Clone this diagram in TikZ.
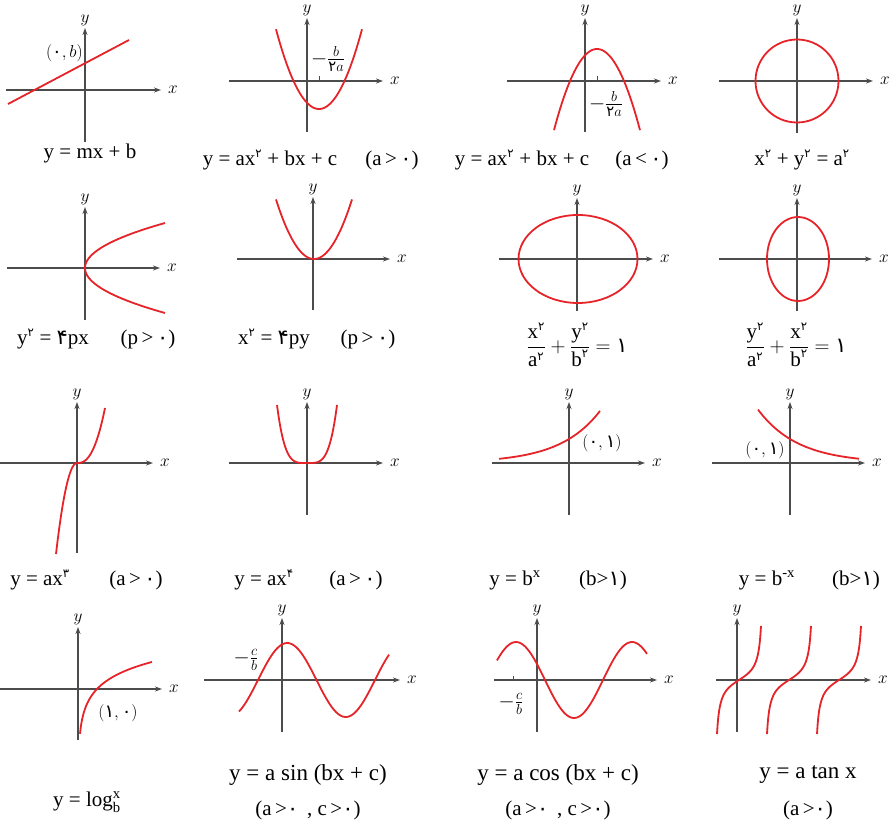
\documentclass[tikz,border=0pt]{standalone}
\usepackage{amsmath}
\usepackage{fontspec}
\setmainfont{Liberation Serif}
\newfontfamily\pfont[Script=Arabic]{DejaVu Sans}
\newcommand\fa[1]{{\pfont #1}}
\newcommand\sfa[1]{\textsuperscript{\pfont\scalebox{0.8}{#1}}}
\newcommand\mfa[1]{\text{\pfont\scalebox{0.8}{#1}}}
\usetikzlibrary{arrows.meta}
\definecolor{cred}{RGB}{230,35,40}
\begin{document}
\begin{tikzpicture}[x=1pt,y=-1pt,
  axis/.style={draw=black!70, line width=1.1pt, -{Stealth[length=7pt,width=5pt]}},
  curve/.style={draw=cred, line width=1.8pt},
  lab/.style={inner sep=0pt, font=\fontsize{17}{20}\selectfont},
  fml/.style={inner sep=0pt, font=\fontsize{21}{25}\selectfont},
  fmlb/.style={inner sep=0pt, font=\fontsize{23}{27}\selectfont},
  small/.style={inner sep=0pt, font=\fontsize{21}{24}\selectfont},
  pt/.style={inner sep=0pt, font=\fontsize{18}{21}\selectfont},
  tick/.style={draw=black!70, line width=0.8pt}]
\useasboundingbox (0,0) rectangle (895,821);
\newcommand\myaxes[7]{%
  \draw[axis] (#3,#2) -- (#4,#2);
  \node[lab,anchor=west] (#7x) at ({#4+7},#2) {$x$};
  \draw[axis] (#1,#6) -- (#1,#5);
  \node[lab,anchor=south] (#7y) at (#1,{#5-2}) {$y$};}
% Row 1
\myaxes{85}{90}{6}{161}{28}{142}{p1}
\draw[curve] (8,104) -- (129,40);
\node[pt,anchor=east] (l1) at (83,53) {$(\mbox{\pfont ۰},b)$};
\node[fml] (f1) at (90,153) {y = mx + b};

\myaxes{307}{81}{229}{383}{18}{132}{p2}
\draw[curve] plot[domain=276:362,samples=60,smooth] (\x,{109-0.0431*(\x-319)*(\x-319)});
\draw[tick] (319,81) -- (319,76);
\node[small] (l2) at (328,59) {$-\frac{b}{\text{\pfont ۲}a}$};
\node[fml] (f2a) at (270,160) {y = ax\sfa{۲} + bx + c};
\node[fml] (f2b) at (392,160) {(a\,>\,\fa{۰})};

\myaxes{585}{81}{507}{661}{18}{132}{p3}
\draw[curve] plot[domain=554:640,samples=60,smooth] (\x,{49+0.0439*(\x-597)*(\x-597)});
\draw[tick] (597,81) -- (597,76);
\node[small] (l3) at (606,104) {$-\frac{b}{\text{\pfont ۲}a}$};
\node[fml] (f3a) at (522,160) {y = ax\sfa{۲} + bx + c};
\node[fml] (f3b) at (642,160) {(a\,<\,\fa{۰})};

\myaxes{797}{81}{719}{873}{18}{133}{p4}
\draw[curve] (797,81) circle[radius=41.5];
\node[fml] (f4) at (802,160) {x\sfa{۲} + y\sfa{۲} = a\sfa{۲}};

% Row 2
\myaxes{85}{268}{7}{160}{207}{320}{p5}
\draw[curve] plot[domain=-45:45,samples=60,smooth] ({85+0.0395*\x*\x},{268+\x});
\node[fml] (f5a) at (53,339) {y\sfa{۲} = \fa{۴}px};
\node[fml] (f5b) at (148,339) {(p\,>\,\fa{۰})};

\myaxes{313}{259}{237}{390}{197}{310}{p6}
\draw[curve] plot[domain=276:352,samples=60,smooth] (\x,{259-0.04125*(\x-314)*(\x-314)});
\node[fml] (f6a) at (274,339) {x\sfa{۲} = \fa{۴}py};
\node[fml] (f6b) at (368,339) {(p\,>\,\fa{۰})};

\myaxes{577}{259}{499}{653}{198}{311}{p7}
\draw[curve] (578,259) ellipse[x radius=59.5,y radius=44];
\node[fml] (f7) at (577,345) {$\dfrac{\text{x}^{\mfa{۲}}}{\text{a}^{\mfa{۲}}}+\dfrac{\text{y}^{\mfa{۲}}}{\text{b}^{\mfa{۲}}}=\text{\pfont ۱}$};

\myaxes{797}{259}{719}{872}{198}{311}{p8}
\draw[curve] (798,259) ellipse[x radius=31,y radius=42];
\node[fml] (f8) at (796,345) {$\dfrac{\text{y}^{\mfa{۲}}}{\text{a}^{\mfa{۲}}}+\dfrac{\text{x}^{\mfa{۲}}}{\text{b}^{\mfa{۲}}}=\text{\pfont ۱}$};

% Row 3
\myaxes{77}{463}{0}{153}{402}{553}{p9}
\draw[curve] plot[domain=-21:0,samples=40,smooth] ({77+\x},{463+91*(\x/21)*(\x/21)}) -- plot[domain=0:28,samples=40,smooth] ({77+\x},{463-55*(\x/28)^2.5});
\node[fml] (f9a) at (40,580) {y = ax\sfa{۳}};
\node[fml] (f9b) at (136,580) {(a\,>\,\fa{۰})};

\myaxes{307}{463}{229}{383}{402}{515}{p10}
\draw[curve] plot[domain=-30:30,samples=60,smooth] ({307+\x},{463-58*(\x/30)*(\x/30)*(\x/30)*(\x/30)});
\node[fml] (f10a) at (264,580) {y = ax\sfa{۴}};
\node[fml] (f10b) at (356,580) {(a\,>\,\fa{۰})};

\myaxes{569}{463}{492}{645}{402}{515}{p11}
\draw[curve] plot[domain=499:600,samples=50,smooth] (\x,{463-24*exp(0.025*(\x-569))});
\node[pt] (l11) at (602,443) {$(\mbox{\pfont ۰},\mbox{\pfont ۱})$};
\node[fml] (f11a) at (515,580) {y = b\textsuperscript{x}};
\node[fml] (f11b) at (603,580) {(b>\fa{۱})};

\myaxes{790}{463}{712}{865}{402}{515}{p12}
\draw[curve] plot[domain=758:859,samples=50,smooth] (\x,{463-24*exp(-0.025*(\x-790))});
\node[pt] (l12) at (765,450) {$(\mbox{\pfont ۰},\mbox{\pfont ۱})$};
\node[fml] (f12a) at (767,580) {y = b\textsuperscript{-x}};
\node[fml] (f12b) at (856,580) {(b>\fa{۱})};

% Row 4
\myaxes{78}{689}{0}{162}{627}{740}{p13}
\draw[curve] plot[domain=2:74,samples=80,smooth] ({78+\x},{689-19.9*ln(\x/19)});
\node[pt] (l13) at (118,713) {$(\mbox{\pfont ۱},\mbox{\pfont ۰})$};
\node[fml] (f13) at (87,802) {y = log$^{\text{x}}_{\text{b}}$};

\myaxes{282}{680}{204}{400}{618}{732}{p14}
\draw[curve] plot[domain=239:389,samples=80,smooth] (\x,{680-37*sin((\x-258)*3.0769)});
\node[small] (l14) at (246,660) {$-\frac{c}{b}$};
\node[fmlb] (f14a) at (308,775) {y = a sin (bx + c)};
\node[fml] (f14b) at (308,810) {(a\,>\fa{۰}\, , c\,>\fa{۰})};

\myaxes{537}{680}{494}{657}{618}{732}{p15}
\draw[curve] plot[domain=497:647,samples=80,smooth] (\x,{680-38*cos((\x-516)*3.1034)});
\draw[tick] (513,680) -- (513,676);
\node[small] (l15) at (511,704) {$-\frac{c}{b}$};
\node[fmlb] (f15a) at (558,775) {y = a cos (bx + c)};
\node[fml] (f15b) at (558,810) {(a\,>\fa{۰}\, , c\,>\fa{۰})};

\myaxes{737}{680}{716}{871}{618}{732}{p16}
\foreach \c in {739,789,839}{
  \draw[curve] plot[domain=-22:22,samples=60,smooth] ({\c+\x},{680-10.3*tan(\x*3.6)});}
\node[fmlb] (f16a) at (808,775) {y = a tan x};
\node[fml] (f16b) at (808,810) {(a\,>\fa{۰})};
\end{tikzpicture}
\end{document}
